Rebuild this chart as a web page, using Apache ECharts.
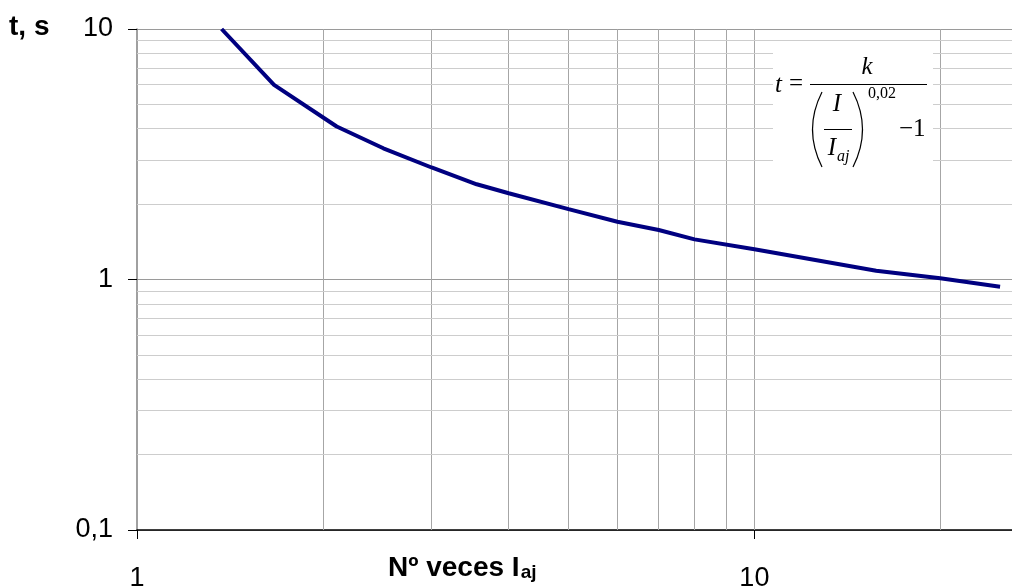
<!DOCTYPE html>
<html>
<head>
<meta charset="utf-8">
<script src="https://cdn.jsdelivr.net/npm/echarts@6/dist/echarts.min.js"></script>
<style>
html,body{margin:0;padding:0;background:#fff;}
#chart{width:1012px;height:587px;}
</style>
</head>
<body>
<div id="chart"></div>
<script>
// Data
const currentMultiples = [1.371, 1.667, 2.106, 2.506, 3.0, 3.55, 4.0, 5.0, 6.0, 7.0, 8.0, 10.0, 15.75, 20.0, 25.0];
const tripTimes       = [10, 5.98, 4.08, 3.34, 2.80, 2.40, 2.21, 1.91, 1.70, 1.576, 1.446, 1.32, 1.084, 1.011, 0.935];

const xTickValues = [1, 10];
const xTickLabels = ['1', '10'];
const yTickValues = [0.1, 1, 10];
const yTickLabels = ['0,1', '1', '10'];
const xGridValues = [2, 3, 4, 5, 6, 7, 8, 9, 10, 20];
const yGridValues = [0.2, 0.3, 0.4, 0.5, 0.6, 0.7, 0.8, 0.9, 2, 3, 4, 5, 6, 7, 8, 9];

function labelFor(values, labels, v) {
  for (let i = 0; i < values.length; i++) {
    if (Math.abs(v - values[i]) / values[i] < 1e-6) return labels[i];
  }
  return '';
}

const curve = currentMultiples.map((x, i) => [x, tripTimes[i]]);

const chart = echarts.init(document.getElementById('chart'), null, {renderer: 'canvas'});
chart.setOption({
  animation: false,
  backgroundColor: '#fff',
  grid: {left: 137, right: -5, top: 29, bottom: 57, containLabel: false, outerBoundsMode: 'none'},
  xAxis: {
    type: 'log', logBase: 10, min: 1, max: 26.63,
    axisLine: {show: true, onZero: false, lineStyle: {color: '#000', width: 1.5}},
    axisTick: {show: true, length: 9, lineStyle: {color: '#000', width: 1}},
    axisLabel: {
      margin: 35, color: '#000', fontSize: 27, fontFamily: 'Liberation Sans',
      formatter: v => labelFor(xTickValues, xTickLabels, v)
    },
    splitLine: {show: false},
    minorTick: {show: false}
  },
  yAxis: {
    type: 'log', logBase: 10, min: 0.1, max: 10,
    axisLine: {show: true, onZero: false, lineStyle: {color: '#808080', width: 1.5}},
    axisTick: {show: true, length: 9, lineStyle: {color: '#000', width: 1}},
    axisLabel: {
      margin: 24, color: '#000', fontSize: 27, fontFamily: 'Liberation Sans',
      formatter: v => labelFor(yTickValues, yTickLabels, v)
    },
    splitLine: {show: true, lineStyle: {color: '#9a9a9a', width: 1}}
  },
  series: [
    {
      type: 'line', data: [], z: 1, silent: true,
      markLine: {
        silent: true, symbol: ['none', 'none'], label: {show: false}, animation: false,
        lineStyle: {type: 'solid', color: '#a6a6a6', width: 1},
        emphasis: {disabled: true},
        data: xGridValues.map(v => ({xAxis: v}))
      }
    },
    {
      type: 'line', data: [], z: 1, silent: true,
      markLine: {
        silent: true, symbol: ['none', 'none'], label: {show: false}, animation: false,
        lineStyle: {type: 'solid', color: '#cdcdcd', width: 1},
        emphasis: {disabled: true},
        data: yGridValues.map(v => ({yAxis: v}))
      }
    },
    {
      type: 'line', data: curve, z: 5, showSymbol: false, smooth: false,
      lineStyle: {color: '#000080', width: 4},
      itemStyle: {color: '#000080'}
    }
  ],
  graphic: [
    {type: 'text', left: 9, top: 13, z: 20,
     style: {text: 't, s', font: 'bold 28px "Liberation Sans"', fill: '#000'}},
    {type: 'text', left: 388, top: 554, z: 20,
     style: {
       text: '{m|Nº veces I}{s|aj}',
       rich: {
         m: {fontSize: 28, fontWeight: 'bold', fontFamily: 'Liberation Sans', lineHeight: 30, verticalAlign: 'bottom', color: '#000'},
         s: {fontSize: 19, fontWeight: 'bold', fontFamily: 'Liberation Sans', lineHeight: 10, verticalAlign: 'bottom', color: '#000', padding: [0, 0, 0, 1]}
       }
     }},
    // formula box
    {type: 'rect', z: 15, silent: true, shape: {x: 773, y: 44, width: 160, height: 126}, style: {fill: '#fff'}},
    {type: 'text', z: 20, x: 775, y: 85, style: {text: 't', font: 'italic 25px "Liberation Serif"', fill: '#000', verticalAlign: 'middle'}},
    {type: 'text', z: 20, x: 789, y: 84, style: {text: '=', font: '25px "Liberation Serif"', fill: '#000', verticalAlign: 'middle'}},
    {type: 'line', z: 20, shape: {x1: 810, y1: 84.5, x2: 927, y2: 84.5}, style: {stroke: '#000', lineWidth: 1}},
    {type: 'text', z: 20, x: 867, y: 67, style: {text: 'k', font: 'italic 25px "Liberation Serif"', fill: '#000', align: 'center', verticalAlign: 'middle'}},
    {type: 'bezierCurve', z: 20, shape: {x1: 822, y1: 92, x2: 822, y2: 167, cpx1: 803, cpy1: 129.5}, style: {stroke: '#000', lineWidth: 1.2, fill: null}},
    {type: 'bezierCurve', z: 20, shape: {x1: 853, y1: 92, x2: 853, y2: 167, cpx1: 872, cpy1: 129.5}, style: {stroke: '#000', lineWidth: 1.2, fill: null}},
    {type: 'text', z: 20, x: 837, y: 104, style: {text: 'I', font: 'italic 25px "Liberation Serif"', fill: '#000', align: 'center', verticalAlign: 'middle'}},
    {type: 'line', z: 20, shape: {x1: 824, y1: 129.5, x2: 852, y2: 129.5}, style: {stroke: '#000', lineWidth: 1}},
    {type: 'text', z: 20, x: 832, y: 148, style: {text: 'I', font: 'italic 25px "Liberation Serif"', fill: '#000', align: 'center', verticalAlign: 'middle'}},
    {type: 'text', z: 20, x: 837, y: 157, style: {text: 'aj', font: 'italic 16px "Liberation Serif"', fill: '#000', verticalAlign: 'middle'}},
    {type: 'text', z: 20, x: 868, y: 94, style: {text: '0,02', font: '16px "Liberation Serif"', fill: '#000', verticalAlign: 'middle'}},
    {type: 'text', z: 20, x: 899, y: 129, style: {text: '\u22121', font: '25px "Liberation Serif"', fill: '#000', verticalAlign: 'middle'}}
  ]
});
</script>
</body>
</html>
